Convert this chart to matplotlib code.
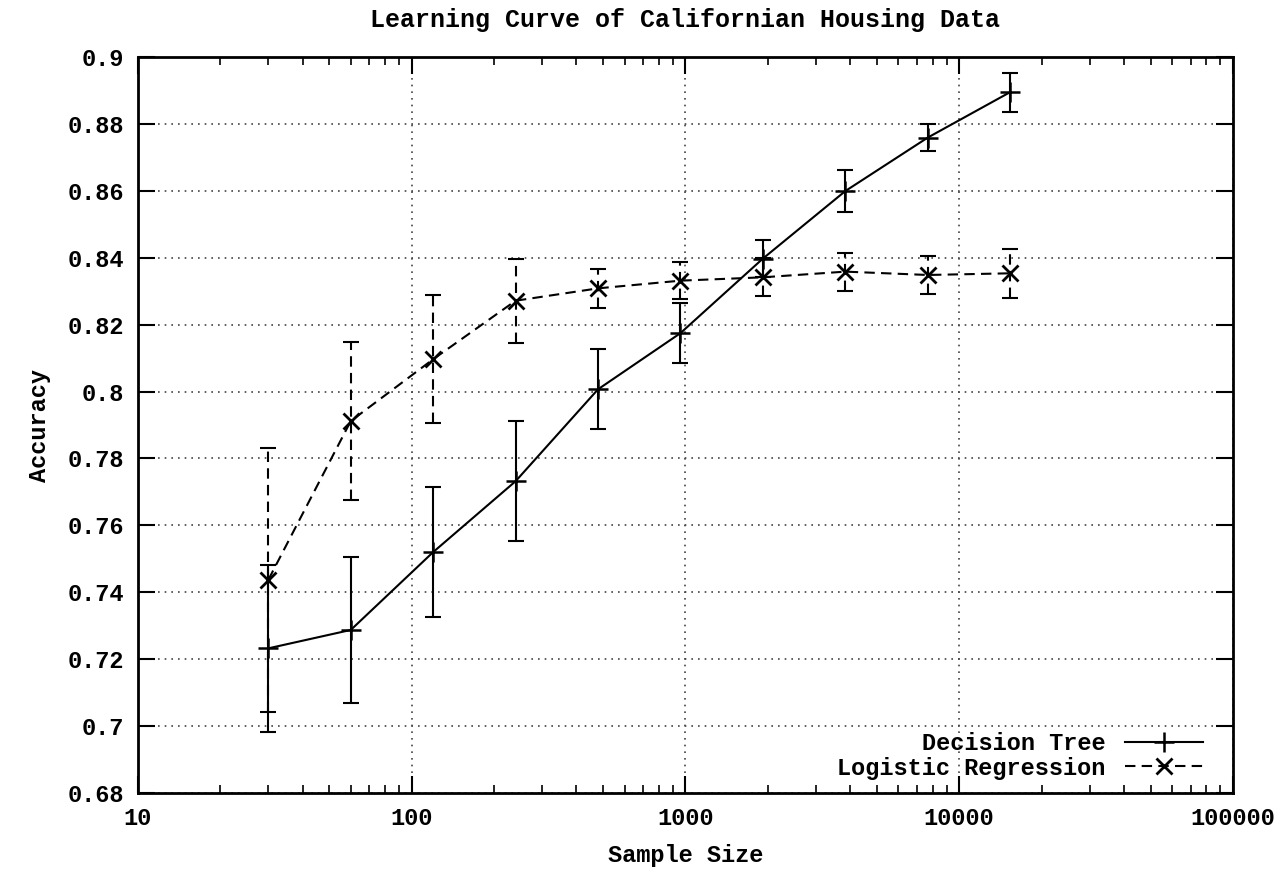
import numpy as np
import matplotlib
matplotlib.use('Agg')
import matplotlib.pyplot as plt
from matplotlib.ticker import LogLocator, FixedLocator, NullFormatter

plt.rcParams['font.family'] = ['Liberation Mono', 'DejaVu Sans Mono']
plt.rcParams['font.weight'] = 'bold'

sample_sizes = [30, 60, 120, 240, 480, 960, 1920, 3840, 7680, 15360]

# decision tree mean accuracy and error (half width)
dt_acc = [0.7232, 0.7287, 0.7520, 0.7732, 0.8007, 0.8175, 0.8398, 0.8600, 0.8760, 0.8896]
dt_err = [0.0250, 0.0218, 0.0195, 0.0180, 0.0120, 0.0089, 0.0056, 0.0062, 0.0040, 0.0058]

# logistic regression
lr_acc = [0.7437, 0.7912, 0.8097, 0.8272, 0.8309, 0.8332, 0.8342, 0.8359, 0.8349, 0.8354]
lr_err = [0.0395, 0.0237, 0.0192, 0.0126, 0.0058, 0.0055, 0.0057, 0.0057, 0.0058, 0.0073]

fig = plt.figure(figsize=(12.75, 8.72), dpi=100)
ax = fig.add_axes([0.108, 0.0909, 0.859, 0.8433])

# error bars
eb = ax.errorbar(sample_sizes, dt_acc, yerr=dt_err, fmt='none', ecolor='black',
                 elinewidth=1.5, capsize=5.5, capthick=1.5)
eb2 = ax.errorbar(sample_sizes, lr_acc, yerr=lr_err, fmt='none', ecolor='black',
                  elinewidth=1.5, capsize=5.5, capthick=1.5)
eb2[2][0].set_linestyle((0, (5, 3)))

ax.plot(sample_sizes, dt_acc, '-', color='black', lw=1.5, marker='+',
        markersize=14, markeredgewidth=1.8, label='Decision Tree')
ax.plot(sample_sizes, lr_acc, '--', color='black', lw=1.5, marker='x',
        markersize=12, markeredgewidth=2.0, dashes=(5, 3), label='Logistic Regression')

ax.set_xscale('log')
ax.set_xlim(10, 100000)
ax.set_ylim(0.68, 0.9)
ax.set_yticks(np.arange(0.68, 0.9001, 0.02))
ax.set_yticklabels(['0.68', '0.7', '0.72', '0.74', '0.76', '0.78', '0.8',
                    '0.82', '0.84', '0.86', '0.88', '0.9'])
ax.xaxis.set_major_locator(FixedLocator([10, 100, 1000, 10000, 100000]))
ax.set_xticklabels(['10', '100', '1000', '10000', '100000'])
ax.xaxis.set_minor_locator(LogLocator(base=10, subs=np.arange(2, 10)))
ax.xaxis.set_minor_formatter(NullFormatter())

ax.tick_params(which='both', direction='in', top=True, right=True, labelsize=17)
ax.tick_params(which='major', length=12, width=1.5, pad=10)
ax.tick_params(which='minor', length=6, width=1.2)
for s in ax.spines.values():
    s.set_linewidth(2)

ax.grid(True, which='major', linestyle=(0, (1, 3)), color='#444444', lw=1.2)

ax.set_title('Learning Curve of Californian Housing Data', fontsize=18,
             fontweight='bold', pad=22)
ax.set_xlabel('Sample Size', fontsize=17, fontweight='bold', labelpad=10)
ax.set_ylabel('Accuracy', fontsize=17, fontweight='bold', labelpad=12)

ax.legend(loc='lower right', bbox_to_anchor=(0.981, 0.005), frameon=False,
          markerfirst=False, fontsize=17, handlelength=3.3, labelspacing=0.05,
          borderaxespad=0)

fig.savefig('out.png', dpi=100)
